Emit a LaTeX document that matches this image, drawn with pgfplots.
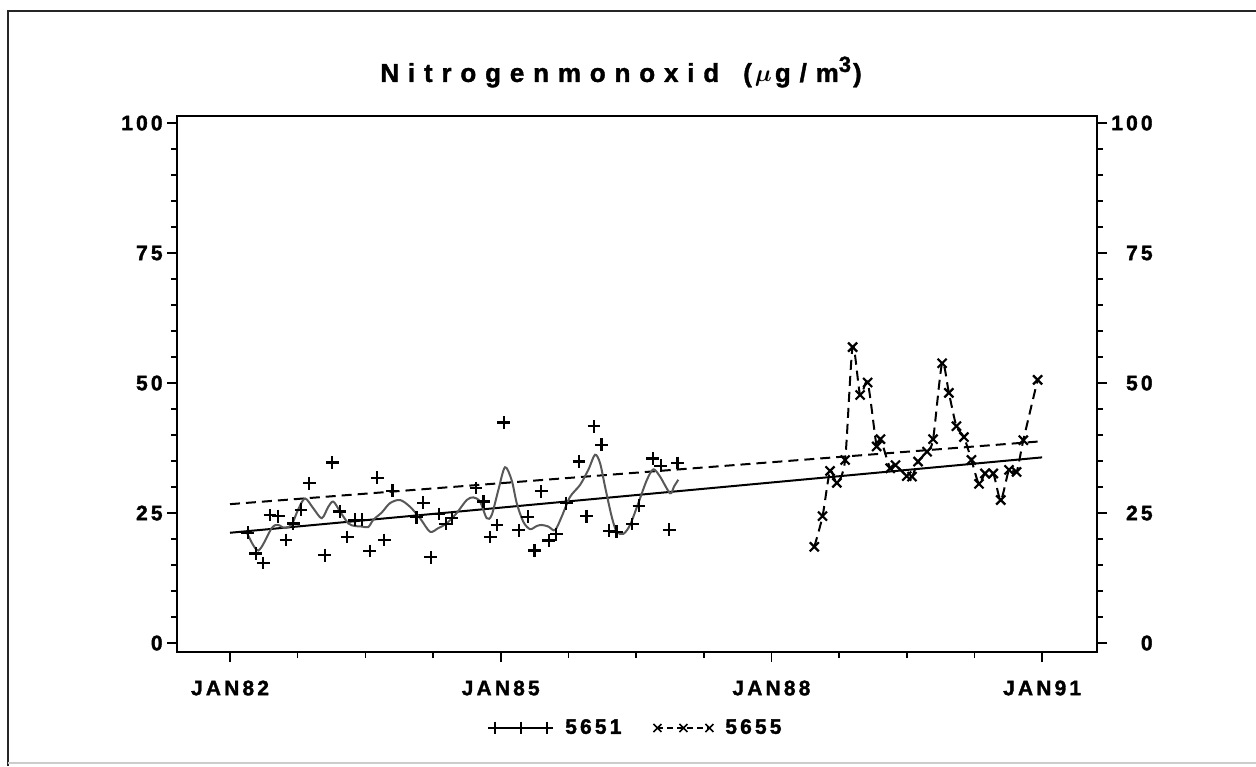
\documentclass[border=0pt]{standalone}
\usepackage{amsmath}
\usepackage{fontspec}
\setmainfont{Liberation Sans}
\newfontfamily\lblfont{Liberation Sans Bold}[LetterSpace=15, FakeBold=1.6]
\newfontfamily\ttlfont{Liberation Sans Bold}[LetterSpace=34, FakeBold=1.4]
\usepackage{pgfplots}
\pgfplotsset{compat=1.18}

\definecolor{smoothgray}{HTML}{585858}

\begin{document}
\begin{tikzpicture}
\useasboundingbox (0,0) rectangle (628pt,383pt);
% page frame
\draw[line width=1pt, black!85] (4pt,0) -- (4pt,377.3pt) -- (628pt,377.3pt);
\draw[line width=0.8pt, black!20] (4pt,1.5pt) -- (628pt,1.5pt);

% title
\node[font=\ttlfont\fontsize{13}{15}\selectfont, anchor=center] at (310.5pt,347pt)
  {Nitrogenmonoxid\hspace{12pt}(\hspace{1.5pt}$\boldsymbol{\mu}$\hspace{1.5pt}g/m\raisebox{5pt}{\fontsize{11}{11}\selectfont 3}\hspace{1pt})};

\begin{axis}[
  at={(88.5pt,57pt)}, anchor=south west,
  width=460pt, height=268pt, scale only axis,
  xmin=-7.05, xmax=115.3, ymin=-1.73, ymax=101.35,
  axis line style={line width=1pt},
  xtick={0,36,72,108}, xticklabels={JAN82,JAN85,JAN88,JAN91},
  minor xtick={9,18,27,45,54,63,81,90,99},
  ytick={0,25,50,75,100}, minor ytick={5,10,15,20,30,35,40,45,55,60,65,70,80,85,90,95},
  xtick pos=lower, ytick pos=left,
  tick align=outside,
  major tick length=5pt, minor tick length=3pt,
  tick style={line width=0.8pt, black},
  /pgf/number format/assume math mode=true,
  ticklabel style={font=\lblfont\fontsize{10.5}{12}\selectfont, inner sep=0pt},
  yticklabel style={anchor=east, xshift=-2pt},
  xticklabel style={anchor=center, yshift=-13pt},
  legend style={at={(axis description cs:0.5,0)}, anchor=center, yshift=-38pt,
    draw=none, fill=none, font=\lblfont\fontsize{10.5}{12}\selectfont,
    legend columns=2, /tikz/every even column/.append style={column sep=14pt}},
  legend image code/.code={\draw[mark repeat=1,#1] plot coordinates {(0pt,0pt) (13pt,0pt) (26pt,0pt)};},
]
% trend lines
\addplot[black, line width=1pt, forget plot] coordinates {(0,21.2) (108,35.7)};
\addplot[black, line width=1pt, dash pattern=on 5pt off 3pt, forget plot] coordinates {(0,26.7) (108,38.8)};

% station 5651: smoothed course
\addplot[smoothgray, line width=1pt, smooth, forget plot] coordinates {
(2.26,21.2) (3.76,17.8) (5.55,22.1) (6.38,22.7) (7.31,22.1) (8.21,22.8) (9.04,25.6)
(9.97,27.8) (11.08,25.9) (12.20,24.0) (13.07,26.2) (13.74,27.2) (14.63,25.3) (15.73,23.0)
(16.62,22.5) (17.52,22.4) (18.39,22.3) (19.06,23.7) (20.18,25.1) (21.28,26.9) (22.61,27.5)
(23.94,26.2) (25.27,24.0) (26.60,21.4) (27.70,22.1) (28.82,23.0) (30.15,25.0) (31.48,27.5)
(32.36,28.0) (33.25,27.2) (34.14,24.0) (34.80,24.6) (35.68,29.4) (36.57,33.8) (37.46,31.3)
(38.13,26.9) (39.01,23.3) (39.90,21.9) (40.79,22.5) (41.45,22.7) (42.33,22.4) (43.22,21.7)
(44.11,24.3) (45.22,28.1) (46.55,30.4) (47.65,33.3) (48.54,36.2) (49.21,34.6) (49.87,30.1)
(50.76,24.3) (51.43,21.4) (52.31,21.0) (53.20,22.7) (54.30,26.9) (55.42,31.3) (56.30,33.4)
(57.19,32.0) (58.52,28.8) (59.05,30.1) (59.62,31.4)
};
% station 5651: monthly values
\addplot[black, only marks, mark=+, mark size=3.2pt, mark options={line width=1.1pt}, forget plot] coordinates {
(2.35,21.2) (3.41,17.2) (4.42,15.4) (5.31,24.6) (6.41,24.4) (7.44,19.8) (8.41,23.0)
(9.43,25.6) (10.53,30.7) (12.6,16.9) (13.6,34.7) (14.6,25.3) (15.6,20.4) (16.6,23.7)
(17.6,23.7) (18.6,17.7) (19.6,31.8) (20.5,19.8) (21.6,29.3) (24.8,24.2) (25.7,27.0)
(26.7,16.5) (27.8,24.8) (28.7,22.9) (29.5,24.0) (32.7,29.8) (33.7,27.2) (34.6,20.4)
(35.5,22.7) (36.4,42.4) (38.4,21.7) (39.6,24.3) (40.5,17.8) (41.4,29.2) (42.4,19.7)
(43.4,20.9) (44.7,26.9) (46.4,34.9) (47.4,24.4) (48.4,41.7) (49.4,38.1) (50.4,21.6)
(51.4,21.4) (53.5,22.9) (54.4,26.4) (56.2,35.5) (57.3,34.1) (58.4,21.8) (59.5,34.6)
};

% station 5655: monthly values joined
\addplot[black, line width=1pt, dash pattern=on 5pt off 3pt, smooth, tension=0.45,
  mark=x, mark size=3.2pt, mark options={solid, line width=1.1pt}, forget plot] coordinates {
(77.7,18.5) (78.8,24.4) (79.8,33.1) (80.7,30.8) (81.8,35.2) (82.8,56.9) (83.8,47.7)
(84.8,50.1) (86.0,37.8) (86.5,39.2) (87.8,33.6) (88.5,34.2) (90.0,32.1) (90.7,32.0)
(91.5,34.9) (92.7,36.8) (93.5,39.2) (94.7,53.8) (95.6,48.1) (96.6,41.7) (97.6,39.6)
(98.6,35.2) (99.6,30.6) (100.4,32.6) (101.5,32.6) (102.5,27.5) (103.6,33.3) (104.6,32.9)
(105.5,39.0) (107.4,50.6)
};

\addlegendimage{black, line width=0.8pt, mark=+, mark size=3.2pt, mark options={solid, line width=0.8pt}}
\addlegendentry{\hspace{4pt}5651}
\addlegendimage{black, line width=0.8pt, dash pattern=on 3pt off 2pt, mark=x, mark size=2.8pt, mark options={solid, line width=0.8pt}}
\addlegendentry{\hspace{4pt}5655}
\end{axis}

% right-hand value axis
\begin{axis}[
  at={(88.5pt,57pt)}, anchor=south west,
  width=460pt, height=268pt, scale only axis,
  xmin=-7.05, xmax=115.3, ymin=-1.73, ymax=101.35,
  hide x axis, axis y line*=right,
  axis line style={line width=1pt},
  ytick={0,25,50,75,100}, minor ytick={5,10,15,20,30,35,40,45,55,60,65,70,80,85,90,95},
  tick align=outside,
  major tick length=5pt, minor tick length=3pt,
  tick style={line width=0.8pt, black},
  /pgf/number format/assume math mode=true,
  ticklabel style={font=\lblfont\fontsize{10.5}{12}\selectfont, inner sep=0pt},
  yticklabel style={anchor=east, xshift=23pt},
]
\addplot[draw=none, forget plot] coordinates {(0,0)};
\end{axis}
\end{tikzpicture}
\end{document}
